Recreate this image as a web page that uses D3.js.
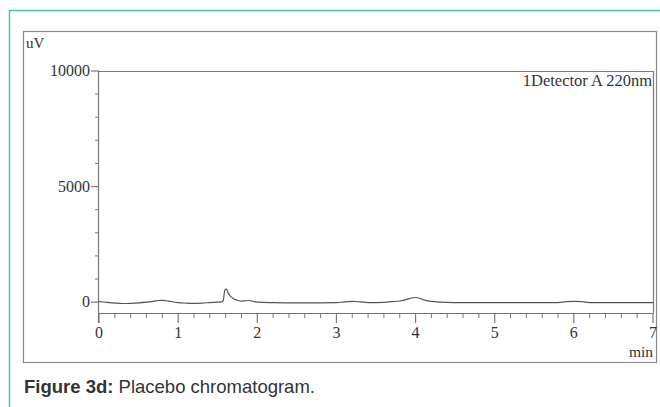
<!DOCTYPE html>
<html>
<head>
<meta charset="utf-8">
<script src="https://cdn.jsdelivr.net/npm/d3@7"></script>
<style>
  body { margin: 0; background: #fff; }
  svg { display: block; }
</style>
</head>
<body>
<div id="chart"></div>
<script>
// Placebo chromatogram - detector A 220nm

const times = [0, 0.1, 0.2, 0.3, 0.4, 0.5, 0.6, 0.7, 0.75, 0.8, 0.85, 0.9, 1.0, 1.1, 1.2, 1.3, 1.4, 1.5,
  1.55, 1.57, 1.59, 1.61, 1.63, 1.66, 1.7, 1.75, 1.8, 1.85, 1.9, 1.95, 2.0, 2.2, 2.5, 2.8, 3.0, 3.1,
  3.2, 3.3, 3.4, 3.6, 3.7, 3.8, 3.9, 3.95, 4.0, 4.05, 4.1, 4.2, 4.3, 4.5, 5.0, 5.5, 5.8, 5.9, 6.0,
  6.1, 6.2, 6.5, 7.0];
const signal = [20, -10, -40, -60, -50, -30, 0, 40, 70, 80, 60, 30, -20, -40, -50, -40, -20, 0,
  10, 80, 520, 560, 400, 260, 150, 80, 40, 60, 70, 30, 0, -20, -30, -30, -25, 10,
  30, 10, -20, -10, 20, 50, 130, 180, 200, 170, 100, 30, 0, -20, -20, -20, -20, 20, 30,
  20, -20, -20, -20];

const xTicks = [0, 1, 2, 3, 4, 5, 6, 7];
const yTicks = [0, 5000, 10000];

const width = 660, height = 407;
const svg = d3.select('#chart').append('svg')
  .attr('width', width)
  .attr('height', height);

// teal border of the figure box
svg.append('path')
  .attr('d', 'M9.5,407 V10.5 H660')
  .attr('fill', 'none')
  .attr('stroke', '#3cc9b3')
  .attr('stroke-width', 1.5);

// outer gray frame
svg.append('rect')
  .attr('x', 23.5).attr('y', 31.5)
  .attr('width', 633).attr('height', 331)
  .attr('fill', 'none')
  .attr('stroke', '#8a8a8a')
  .attr('stroke-width', 1.2);

const margin = {left: 99, right: 653, top: 71, bottom: 313};

const x = d3.scaleLinear().domain([0, 7]).range([margin.left, margin.right]);
const y = d3.scaleLinear().domain([-470, 10000]).range([margin.bottom, margin.top]);

const serif = '"Liberation Serif", "Times New Roman", serif';

// plot frame (top and right)
svg.append('path')
  .attr('d', `M${margin.left},${margin.top + 0.5} H${margin.right + 0.5} V${margin.bottom}`)
  .attr('fill', 'none')
  .attr('stroke', '#7a7a7a')
  .attr('stroke-width', 1.2);

// x axis with minor ticks
const xMinor = d3.range(0, 7.001, 0.2).filter(v => Math.abs(v - Math.round(v)) > 0.01);
const xg = svg.append('g');
xg.append('line')
  .attr('x1', margin.left).attr('x2', margin.right + 0.5)
  .attr('y1', margin.bottom + 0.5).attr('y2', margin.bottom + 0.5)
  .attr('stroke', '#777').attr('stroke-width', 1.2);
xg.selectAll('.minor').data(xMinor).enter().append('line')
  .attr('x1', d => x(d)).attr('x2', d => x(d))
  .attr('y1', margin.bottom).attr('y2', margin.bottom + 5)
  .attr('stroke', '#777');
xg.selectAll('.major').data(xTicks).enter().append('line')
  .attr('x1', d => x(d)).attr('x2', d => x(d))
  .attr('y1', margin.bottom).attr('y2', margin.bottom + 10)
  .attr('stroke', '#777').attr('stroke-width', 1.2);
xg.selectAll('text').data(xTicks).enter().append('text')
  .attr('x', d => x(d)).attr('y', margin.bottom + 25)
  .attr('text-anchor', 'middle')
  .attr('font-family', serif).attr('font-size', 16)
  .attr('fill', '#333')
  .text(d => d);
svg.append('text')
  .attr('x', margin.right).attr('y', 357)
  .attr('text-anchor', 'end')
  .attr('font-family', serif).attr('font-size', 15.5)
  .attr('fill', '#333')
  .text('min');

// y axis with minor ticks
const yMinor = d3.range(1000, 10000, 1000).filter(v => v % 5000 !== 0);
const yg = svg.append('g');
yg.append('line')
  .attr('x1', margin.left - 0.5).attr('x2', margin.left - 0.5)
  .attr('y1', margin.top).attr('y2', margin.bottom + 10)
  .attr('stroke', '#777').attr('stroke-width', 1.2);
yg.selectAll('.minor').data(yMinor).enter().append('line')
  .attr('x1', margin.left - 4).attr('x2', margin.left)
  .attr('y1', d => y(d)).attr('y2', d => y(d))
  .attr('stroke', '#777');
yg.selectAll('.major').data(yTicks).enter().append('line')
  .attr('x1', margin.left - 8).attr('x2', margin.left)
  .attr('y1', d => y(d)).attr('y2', d => y(d))
  .attr('stroke', '#777').attr('stroke-width', 1.2);
yg.selectAll('text').data(yTicks).enter().append('text')
  .attr('x', margin.left - 9).attr('y', d => y(d) + 5)
  .attr('text-anchor', 'end')
  .attr('font-family', serif).attr('font-size', 16)
  .attr('fill', '#333')
  .text(d => d);
svg.append('text')
  .attr('x', 26).attr('y', 48)
  .attr('font-family', serif).attr('font-size', 15)
  .attr('fill', '#333')
  .text('uV');

svg.append('text')
  .attr('x', margin.right - 1).attr('y', 86)
  .attr('text-anchor', 'end')
  .attr('font-family', serif).attr('font-size', 16.5)
  .attr('fill', '#333')
  .text('1Detector A 220nm');

// trace
const line = d3.line()
  .x((d, i) => x(times[i]))
  .y(d => y(d))
  .curve(d3.curveMonotoneX);
svg.append('path')
  .datum(signal)
  .attr('d', line)
  .attr('fill', 'none')
  .attr('stroke', '#555')
  .attr('stroke-width', 1.2);

// caption
const cap = svg.append('text')
  .attr('x', 24).attr('y', 393)
  .attr('font-family', 'Arial, "Liberation Sans", sans-serif')
  .attr('font-size', 18.5)
  .attr('fill', '#333');
cap.append('tspan').attr('font-weight', 'bold').text('Figure 3d:');
cap.append('tspan').text(' Placebo chromatogram.');
</script>
</body>
</html>
